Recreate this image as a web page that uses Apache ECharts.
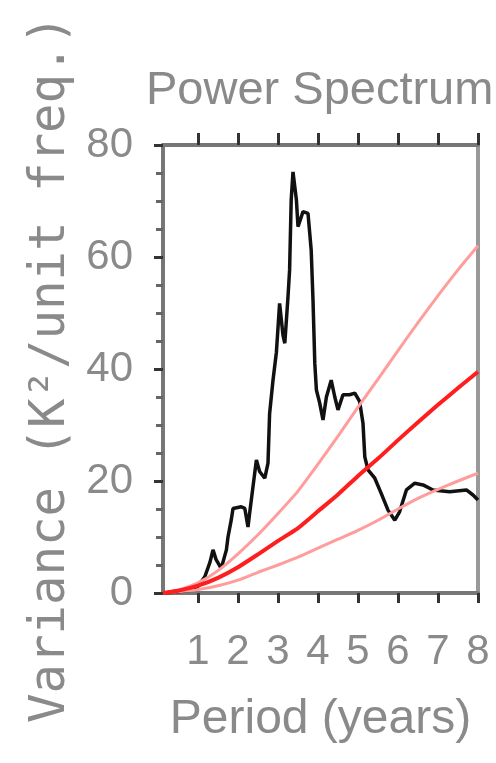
<!DOCTYPE html>
<html lang="en">
<head>
    <meta charset="UTF-8">
    <title>Power Spectrum</title>
    <script src="https://cdn.jsdelivr.net/npm/echarts@6/dist/echarts.min.js"></script>
    <style>
        html, body { margin: 0; padding: 0; background: #fff; }
        #content { width: 496px; height: 763px; }
    </style>
</head>
<body>
<div id="content"></div>
<script>
    // global wavelet spectrum (black line)
    var periods = [0.125, 0.5, 0.8, 1.0, 1.17, 1.3, 1.375, 1.45, 1.58, 1.71, 1.75, 1.83, 1.875,
        2.08, 2.17, 2.25, 2.29, 2.375, 2.46, 2.54, 2.67, 2.75, 2.79, 2.875, 2.96, 3.04, 3.125,
        3.17, 3.25, 3.29, 3.33, 3.375, 3.46, 3.5, 3.625, 3.75, 3.83, 3.875, 3.92, 3.96, 4.04,
        4.125, 4.21, 4.33, 4.42, 4.5, 4.625, 4.79, 4.92, 5.04, 5.125, 5.17, 5.25, 5.42, 5.58,
        5.75, 5.92, 6.04, 6.21, 6.42, 6.625, 6.875, 7.29, 7.71, 7.875, 8.0];
    var variance = [0, 0.2, 0.5, 1.2, 2.9, 5.5, 7.7, 6.0, 4.4, 7.7, 10, 13, 15.1,
        15.4, 15.1, 11.8, 14.2, 19, 23.75, 21.7, 20.5, 23.2, 32, 38, 43, 51.7, 46,
        44.6, 52.9, 57.7, 70.2, 75.2, 70.2, 65.4, 68.1, 67.8, 61.25, 52.3, 41, 36.25, 34,
        30.9, 35, 38, 35, 32.7, 35.4, 35.4, 35.7, 34.2, 30.3, 24.3, 22, 20.5, 17.8,
        14.8, 13, 14.5, 18.4, 19.6, 19.3, 18.4, 18.1, 18.4, 17.5, 16.6];

    // red-noise background and confidence curves
    var redPeriods = [0.125, 0.5, 1, 1.5, 2, 2.5, 3, 3.5, 4, 4.5, 5, 5.5, 6, 6.5, 7, 7.5, 8];
    var redMid   = [0, 0.4, 1.3, 2.7, 4.6, 6.9, 9.3, 11.6, 14.6, 17.6, 20.9, 24.0, 27.3, 30.5, 33.6, 36.6, 39.5];
    var redUpper = [0, 0.5, 1.8, 4.0, 7.0, 10.4, 14.2, 18.2, 23.0, 28.0, 33.2, 38.2, 43.3, 48.3, 53.1, 57.7, 62];
    var redLower = [0, 0.2, 0.6, 1.3, 2.3, 3.7, 5.0, 6.4, 8.0, 9.6, 11.2, 13.0, 15.0, 16.9, 18.5, 20.0, 21.4];

    var xTicks = [1, 2, 3, 4, 5, 6, 7, 8];

    function pairs(xs, ys) {
        return xs.map(function (x, i) { return [x, ys[i]]; });
    }

    var sans = "'Liberation Sans', Arial, sans-serif";
    var frame = { show: true, onZero: false, lineStyle: { color: '#777', width: 4 } };

    var myChart = echarts.init(document.getElementById('content'));
    var option = {
        animation: false,
        title: {
            text: 'Power Spectrum',
            left: 141,
            top: 63,
            textStyle: { fontFamily: sans, fontSize: 47, fontWeight: 'normal', color: '#8a8a8a' }
        },
        grid: { left: 163, right: 18, top: 145, bottom: 170, outerBoundsMode: 'none', containLabel: false },
        xAxis: [{
            type: 'value',
            min: 0.125,
            max: 8,
            position: 'bottom',
            name: 'Period (years)',
            nameLocation: 'middle',
            nameGap: 103,
            nameTextStyle: { fontFamily: sans, fontSize: 48, color: '#8a8a8a' },
            axisLine: frame,
            axisTick: { show: true, customValues: xTicks, length: 10, lineStyle: { color: '#333', width: 3 } },
            axisLabel: { customValues: xTicks, margin: 38, fontFamily: sans, fontSize: 42, color: '#8a8a8a' },
            splitLine: { show: false }
        }, {
            type: 'value',
            min: 0.125,
            max: 8,
            position: 'top',
            axisLine: frame,
            axisTick: { show: true, customValues: xTicks, length: 12, lineStyle: { color: '#333', width: 3 } },
            axisLabel: { show: false },
            splitLine: { show: false }
        }],
        yAxis: [{
            type: 'value',
            min: 0,
            max: 80,
            interval: 20,
            position: 'left',
            name: 'Variance (K\u00b2/unit freq.)',
            nameLocation: 'middle',
            nameRotate: 90,
            nameGap: 82,
            nameTextStyle: { fontFamily: "'DejaVu Sans Mono', monospace", fontSize: 49, color: '#8a8a8a' },
            axisLine: frame,
            axisTick: { show: true, length: 9, lineStyle: { color: '#333', width: 3 } },
            minorTick: { show: true, splitNumber: 4, length: 7, lineStyle: { color: '#666', width: 3 } },
            axisLabel: { margin: 30, fontFamily: sans, fontSize: 42, color: '#8a8a8a' },
            splitLine: { show: false }
        }, {
            type: 'value',
            min: 0,
            max: 80,
            position: 'right',
            axisLine: { show: true, onZero: false, lineStyle: { color: '#999', width: 4 } },
            axisTick: { show: false },
            axisLabel: { show: false },
            splitLine: { show: false }
        }],
        series: [{
            name: 'spectrum',
            type: 'line',
            data: pairs(periods, variance),
            showSymbol: false,
            lineStyle: { color: '#111', width: 3.5 }
        }, {
            name: 'upper',
            type: 'line',
            data: pairs(redPeriods, redUpper),
            showSymbol: false,
            smooth: 0.2,
            lineStyle: { color: '#ff9c9c', width: 3 }
        }, {
            name: 'lower',
            type: 'line',
            data: pairs(redPeriods, redLower),
            showSymbol: false,
            smooth: 0.2,
            lineStyle: { color: '#ff9c9c', width: 3 }
        }, {
            name: 'red noise',
            type: 'line',
            data: pairs(redPeriods, redMid),
            showSymbol: false,
            smooth: 0.2,
            lineStyle: { color: '#ff1e1e', width: 4 }
        }]
    };
    myChart.setOption(option);
</script>
</body>
</html>
